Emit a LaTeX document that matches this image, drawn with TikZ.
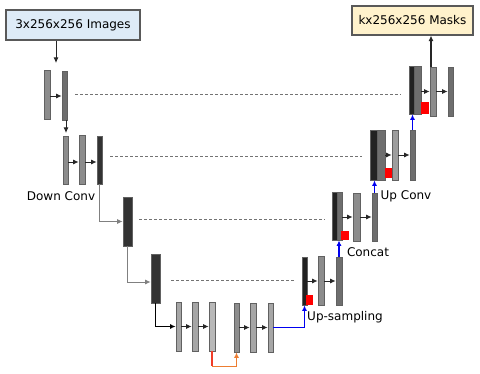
\documentclass[tikz,border=0pt]{standalone}
\usepackage{xcolor}
\usepackage{fontspec}
\setmainfont{DejaVu Sans}
\usepackage{tikz}
\usetikzlibrary{positioning, arrows.meta, calc}
\definecolor{inbg}{HTML}{DEEBF7}
\definecolor{outbg}{HTML}{FFF2CC}
\definecolor{boxline}{HTML}{595959}
\definecolor{maplight}{HTML}{A6A6A6}
\definecolor{mapmid}{HTML}{8C8C8C}
\definecolor{mapgray}{HTML}{6E6E6E}
\definecolor{mapdark}{HTML}{333333}
\definecolor{mapblack}{HTML}{222222}
\definecolor{upblue}{HTML}{0000F0}
\definecolor{bridge}{HTML}{ED7D31}
\definecolor{bridgered}{HTML}{F03C28}

\tikzset{
  iobox/.style={draw=boxline, line width=1.1pt, inner sep=0pt, minimum height=30pt, font=\fontsize{12}{13}\selectfont},
  fmap/.style={draw=black!62, line width=0.7pt, fill=#1, inner sep=0pt, minimum width=6pt, minimum height=49pt},
  fmap/.default=mapmid,
  cropped/.style={draw=none, fill=red, inner sep=0pt, minimum width=8pt, minimum height=11pt},
  conv/.style={-{Latex[length=5.5pt, width=5pt]}, black!85, line width=0.9pt},
  upconv/.style={-{Latex[length=5.5pt, width=5pt]}, upblue, line width=1.3pt},
  skipline/.style={dash pattern=on 3pt off 2pt, black!55, line width=0.7pt, shorten <=8pt, shorten >=8pt},
  tag/.style={font=\fontsize{12}{13}\selectfont, inner sep=1pt}
}

\begin{document}
\begin{tikzpicture}[x=1pt, y=-1pt]
  \useasboundingbox (0,0) rectangle (480,374);

  % input and output
  \node[iobox, fill=inbg, minimum width=134pt] (input) at (73,25) {3x256x256 Images};
  \node[iobox, fill=outbg, minimum width=121pt, minimum height=29pt] (masks) at (412.5,20.5) {kx256x256 Masks};

  % contracting path
  \node[fmap] (d1a) at (47,94.5) {};
  \node[fmap=mapgray, minimum width=5pt] (d1b) at (64.5,95.5) {};
  \node[fmap, minimum width=5pt, minimum height=48pt] (d2a) at (65.5,160) {};
  \node[fmap] (d2b) at (82,160) {};
  \node[fmap=mapdark, minimum width=5pt, minimum height=48pt] (d2c) at (99.5,160) {};
  \node[fmap=mapdark, minimum width=9pt] (d3) at (127.5,221.5) {};
  \node[fmap=mapdark, minimum width=9pt] (d4) at (155.5,278.5) {};
  \node[tag] (downlbl) at (61,196.5) {Down Conv};

  % bottleneck
  \node[fmap=maplight, minimum width=5pt] (b1) at (178.5,326.5) {};
  \node[fmap=maplight] (b2) at (195,326.5) {};
  \node[fmap=maplight!80!white] (b3) at (212,326.5) {};
  \node[fmap=maplight!85!black, minimum width=5pt] (b4) at (236.5,327.5) {};
  \node[fmap=maplight] (b5) at (253,327.5) {};
  \node[fmap=maplight, minimum width=5pt] (b6) at (270.5,327.5) {};

  % expanding path
  \node[fmap=mapblack, minimum width=5pt, minimum height=48pt] (u4a) at (304.5,281) {};
  \node[cropped, minimum width=7pt, minimum height=10pt] (u4r) at (309.5,300) {};
  \node[fmap] (u4b) at (321,281) {};
  \node[fmap=mapgray, minimum height=48pt] (u4c) at (339,281) {};
  \node[tag] (samplbl) at (345,317.5) {Up-sampling};

  \node[fmap=mapblack, minimum width=5pt, minimum height=48pt] (u3a) at (334.5,216) {};
  \node[fmap=mapgray, minimum width=5pt, minimum height=48pt] (u3o) at (339.5,216) {};
  \node[cropped, minimum height=9pt] (u3r) at (345,235.5) {};
  \node[fmap, minimum width=7pt, minimum height=48pt] (u3b) at (356.5,217) {};
  \node[fmap=mapgray, minimum width=5pt, minimum height=48pt] (u3c) at (374.5,217) {};
  \node[tag] (catlbl) at (368,252) {Concat};

  \node[fmap=mapblack, minimum width=7pt, minimum height=50pt] (u2a) at (373.5,155) {};
  \node[fmap=mapgray, minimum width=8pt, minimum height=50pt] (u2o) at (381,155) {};
  \node[cropped, minimum width=7pt, minimum height=10pt] (u2r) at (388.5,173) {};
  \node[fmap=mapmid!85!white, minimum height=50pt] (u2b) at (395,155) {};
  \node[fmap=mapgray, minimum width=5pt, minimum height=50pt] (u2c) at (412.5,155) {};
  \node[tag] (uplbl) at (406,196.5) {Up Conv};

  \node[fmap=mapblack, minimum width=5pt, minimum height=48pt] (u1a) at (411.5,90) {};
  \node[fmap=mapgray, minimum width=7pt, minimum height=48pt] (u1o) at (417.5,90) {};
  \node[cropped, minimum height=12pt] (u1r) at (425,108) {};
  \node[fmap] (u1b) at (433,91.5) {};
  \node[fmap=mapgray, minimum width=5pt] (u1c) at (450.5,91.5) {};

  % skip connections
  \draw[skipline] ([yshift=1.5pt]d1b.east) -- ([yshift=1.5pt]d1b.east -| u1a.west);
  \draw[skipline] ([yshift=4pt]d2c.east) -- ([yshift=4pt]d2c.east -| u2a.west);
  \draw[skipline, shorten <=7pt, shorten >=7pt] ([yshift=2.5pt]d3.east) -- ([yshift=2.5pt]d3.east -| u3a.west);
  \draw[skipline, shorten <=11pt, shorten >=7pt] ([yshift=-1.5pt]d4.east) -- ([yshift=-1.5pt]d4.east -| u4a.west);

  % convolutions
  \coordinate (inend) at (56,63);
  \draw[conv] (input.south -| inend) -- (inend);
  \draw[conv] (d1a.east |- 0,96) -- (d1b.west |- 0,96);
  \draw[conv] (d1b.south -| 66,0) -- (66,133);
  \foreach \a/\b in {d2a/d2b, d2b/d2c}
    \draw[conv] ([yshift=-2pt]\a.east) -- ([yshift=-2pt]\b.west);
  \draw[conv, black!50] (d2c.south) |- (d3.west);
  \draw[conv, black!50] (d3.south) |- ([yshift=-3.5pt]d4.west);
  \draw[conv, black, line width=1.3pt] (d4.south) |- (b1.west);
  \foreach \a/\b in {b1/b2, b2/b3, b4/b5, b5/b6, u4b/u4c, u3b/u3c, u2b/u2c, u1b/u1c}
    \draw[conv] (\a.west -| \a.east) -- (\b.west);
  \draw[conv] (u4a.east |- u4b.west) -- (u4b.west);
  \draw[conv] (u3o.east |- u3b.west) -- (u3b.west);
  \draw[conv] (u2o.east |- u2b.west) -- (u2b.west);
  \draw[conv] (u1o.east |- u1b.west) -- (u1b.west);
  \draw[conv, line width=1.3pt] (u1b.north -| 431,0) -- (masks.south -| 431,0);

  % bottleneck bridge
  \draw[bridgered, line width=1.3pt] (b3.south) -- ++(0,15) coordinate (dip);
  \draw[bridge, line width=1.3pt, -{Latex[length=5.5pt, width=5pt]}] (dip) -| (b4.south);

  % up-sampling
  \draw[upconv] (b6.east) -| (u4a.south);
  \draw[upconv] (u4c.north) -- (u4c.north |- u3o.south);
  \draw[upconv] (u3c.north) -- (u3c.north |- u2a.south);
  \draw[upconv] (u2c.north) -- (u2c.north |- u1a.south);
\end{tikzpicture}
\end{document}
